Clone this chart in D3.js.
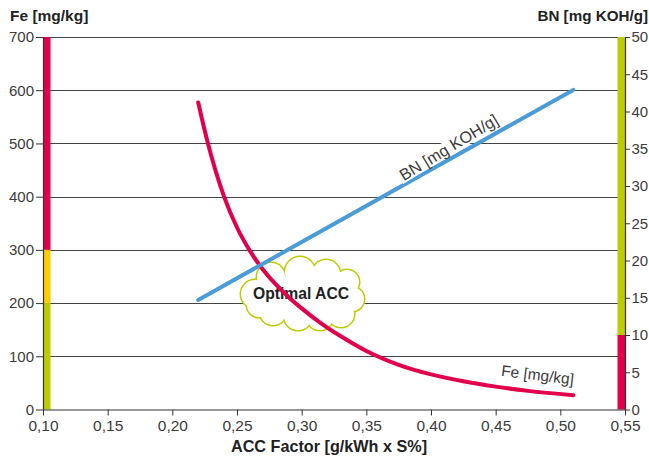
<!DOCTYPE html>
<html><head><meta charset="utf-8">
<script src="https://cdn.jsdelivr.net/npm/d3@7/dist/d3.min.js"></script>
<style>body{margin:0;background:#fff} svg{display:block;font-family:"Liberation Sans",Arial,sans-serif}</style>
</head><body><svg id="c" width="649" height="459"></svg>
<script>
// ---- data ----
const xTicks = [0.10, 0.15, 0.20, 0.25, 0.30, 0.35, 0.40, 0.45, 0.50, 0.55];
const xTickLabels = ["0,10","0,15","0,20","0,25","0,30","0,35","0,40","0,45","0,50","0,55"];
const feTicks = [0, 100, 200, 300, 400, 500, 600, 700];
const bnTicks = [0, 5, 10, 15, 20, 25, 30, 35, 40, 45, 50];
const feAcc = [0.22, 0.227, 0.24, 0.25, 0.26, 0.27, 0.28, 0.29, 0.30, 0.315, 0.33, 0.35, 0.375, 0.40, 0.425, 0.45, 0.475, 0.51];
const feVal = [577, 505, 400, 342, 298, 263, 235, 211, 190, 162, 138, 110, 84, 66, 53, 43, 35, 27];
const bnAcc = [0.22, 0.51];
const bnVal = [14.7, 42.9];
const feBandLimits = [0, 200, 300, 700];
const bnBandLimits = [0, 10, 50];
const titleLeft = "Fe [mg/kg]";
const titleRight = "BN [mg KOH/g]";
const xTitle = "ACC Factor [g/kWh x S%]";
const feLabel = "Fe [mg/kg]";
const bnLabel = "BN [mg KOH/g]";
const cloudText = "Optimal ACC";

// ---- styles ----
const RED = "#e2004b", YEL = "#ffcc00", GRN = "#bdcc00", BLUE = "#4a9bd8";
const TXT = "#3c3c3c";
const m = {l: 43, r: 24, t: 37, b: 49.5};
const W = 649, H = 459;
const svg = d3.select("#c");
const x = d3.scaleLinear().domain([0.10, 0.55]).range([m.l, W - m.r]);
const yFe = d3.scaleLinear().domain([0, 700]).range([H - m.b, m.t]);
const yBn = d3.scaleLinear().domain([0, 50]).range([H - m.b, m.t]);

// gridlines
svg.append("g").selectAll("line").data(feTicks.filter(d => d > 0)).join("line")
  .attr("x1", m.l).attr("x2", W - m.r)
  .attr("y1", d => Math.round(yFe(d)) + 0.5).attr("y2", d => Math.round(yFe(d)) + 0.5)
  .attr("stroke", "#444").attr("stroke-width", 1);

// colored bands
const feBands = d3.pairs(feBandLimits);
const feColors = [GRN, YEL, RED];
svg.append("g").selectAll("rect").data(feBands).join("rect")
  .attr("x", m.l).attr("width", 7.5)
  .attr("y", d => yFe(d[1])).attr("height", d => yFe(d[0]) - yFe(d[1]))
  .attr("fill", (d, i) => feColors[i]);
const bnBands = d3.pairs(bnBandLimits);
const bnColors = [RED, GRN];
svg.append("g").selectAll("rect").data(bnBands).join("rect")
  .attr("x", W - m.r - 7.5).attr("width", 7.5)
  .attr("y", d => yBn(d[1])).attr("height", d => yBn(d[0]) - yBn(d[1]))
  .attr("fill", (d, i) => bnColors[i]);

// axes
function styleAxis(g, fs) {
  g.selectAll(".domain").attr("stroke", "#333").attr("stroke-width", 1.2);
  g.selectAll(".tick line").attr("stroke", "#333");
  g.selectAll(".tick text").attr("fill", TXT).attr("font-size", fs)
    .attr("font-family", '"Liberation Sans",Arial,sans-serif');
}
svg.append("g").attr("transform", `translate(0,${H - m.b})`)
  .call(d3.axisBottom(x).tickValues(xTicks).tickFormat((d, i) => xTickLabels[i]).tickSize(6).tickSizeOuter(0).tickPadding(4))
  .call(styleAxis, 15.5);
svg.append("g").attr("transform", `translate(${m.l},0)`)
  .call(d3.axisLeft(yFe).tickValues(feTicks).tickSize(7).tickSizeOuter(0).tickPadding(2))
  .call(styleAxis, 15);
svg.append("g").attr("transform", `translate(${W - m.r},0)`)
  .call(d3.axisRight(yBn).tickValues(bnTicks).tickSize(5).tickSizeOuter(0).tickPadding(1.5))
  .call(styleAxis, 15);

// titles
svg.append("text").attr("x", 10).attr("y", 21).attr("font-size", 15.5).attr("font-weight", "bold")
  .attr("fill", "#222").text(titleLeft);
svg.append("text").attr("x", W - 1).attr("y", 21).attr("text-anchor", "end").attr("font-size", 15.2)
  .attr("font-weight", "bold").attr("fill", "#222").text(titleRight);
svg.append("text").attr("x", 329).attr("y", 452).attr("text-anchor", "middle")
  .attr("font-size", 16.2).attr("font-weight", "bold").attr("fill", "#222").text(xTitle);

// cloud (under the lines)
const cx = x(0.2995), cy = yFe(215);
const bumps = [[-46,-1,14],[-30,-18,14],[-1,-23,15],[25,-21,14],[46,-13,12],[51,4,12],[40,19,13],[19,22,13],[-3,21,14],[-28,17,13],[-42,10,12]];
const cg = svg.append("g").attr("transform", `translate(${cx},${cy})`);
cg.selectAll("circle.o").data(bumps).join("circle").attr("class", "o")
  .attr("cx", d => d[0]).attr("cy", d => d[1]).attr("r", d => d[2])
  .attr("fill", "#fff").attr("stroke", GRN).attr("stroke-width", 3);
cg.selectAll("circle.i").data(bumps).join("circle").attr("class", "i")
  .attr("cx", d => d[0]).attr("cy", d => d[1]).attr("r", d => d[2]).attr("fill", "#fff");
cg.append("ellipse").attr("rx", 46).attr("ry", 20).attr("fill", "#fff");

// lines
const line = (ys) => d3.line().x(d => x(d[0])).y(d => ys(d[1])).curve(d3.curveMonotoneX);
svg.append("path").datum(d3.zip(feAcc, feVal)).attr("d", line(yFe))
  .attr("fill", "none").attr("stroke", RED).attr("stroke-width", 4).attr("stroke-linecap", "round");
svg.append("path").datum(d3.zip(bnAcc, bnVal)).attr("d", line(yBn))
  .attr("fill", "none").attr("stroke", BLUE).attr("stroke-width", 4).attr("stroke-linecap", "round");

// cloud text with white backing
cg.append("rect").attr("x", -51).attr("y", -13).attr("width", 102).attr("height", 27).attr("fill", "#fff");
cg.append("text").attr("text-anchor", "middle").attr("y", 4).attr("font-size", 15.7)
  .attr("font-weight", "bold").attr("fill", "#222").text(cloudText);

// BN label rotated along the line with white background
const p0 = [x(bnAcc[0]), yBn(bnVal[0])], p1 = [x(bnAcc[1]), yBn(bnVal[1])];
const ang = Math.atan2(p1[1] - p0[1], p1[0] - p0[0]) * 180 / Math.PI;
const tb = 0.418;
const bx = x(tb), by = yBn(bnVal[0] + (bnVal[1] - bnVal[0]) * (tb - bnAcc[0]) / (bnAcc[1] - bnAcc[0]));
const bg = svg.append("g").attr("transform", `translate(${bx},${by}) rotate(${ang - 2})`);
bg.append("rect").attr("x", -58).attr("y", -18).attr("width", 116).attr("height", 15).attr("fill", "#fff");
bg.append("text").attr("text-anchor", "middle").attr("y", -5).attr("font-size", 16.3).attr("fill", TXT).text(bnLabel);

// Fe label
svg.append("text").attr("transform", `translate(${x(0.482)},${yFe(55)}) rotate(7)`)
  .attr("text-anchor", "middle").attr("font-size", 15.5).attr("fill", TXT).text(feLabel);
</script></body></html>
